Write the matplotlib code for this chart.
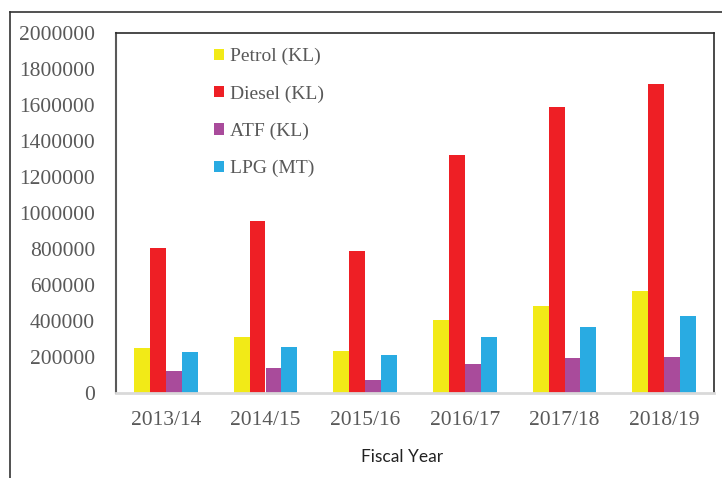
import matplotlib
matplotlib.use("Agg")
import matplotlib.pyplot as plt
from matplotlib.patches import Patch
from matplotlib.lines import Line2D
import numpy as np

years = ["2013/14", "2014/15", "2015/16", "2016/17", "2017/18", "2018/19"]
series_names = ["Petrol (KL)", "Diesel (KL)", "ATF (KL)", "LPG (MT)"]
petrol = [250000, 313000, 235000, 407000, 485000, 567000]
diesel = [807000, 957000, 790000, 1322000, 1590000, 1716000]
atf = [122000, 141000, 74000, 163000, 196000, 198000]
lpg = [229000, 256000, 213000, 311000, 368000, 429000]
yticks = [0, 200000, 400000, 600000, 800000, 1000000, 1200000,
          1400000, 1600000, 1800000, 2000000]
colors = ["#f2ea17", "#ee1f25", "#a94b9b", "#29abe2"]

W, H = 722, 478
fig = plt.figure(figsize=(W / 100, H / 100), dpi=100)
ax = fig.add_axes([116 / W, 1 - 393 / H, (714 - 116) / W, (393 - 33) / H])

x = np.arange(len(years))
bw = 0.16
for i, (vals, col, name) in enumerate(zip([petrol, diesel, atf, lpg], colors, series_names)):
    ax.bar(x + (i - 1.5) * bw, vals, bw, color=col, label=name, linewidth=0, zorder=2)

ax.set_xlim(-0.5, len(years) - 0.5)
ax.set_ylim(yticks[0], yticks[-1])
ax.set_yticks(yticks)
ax.set_yticklabels([str(v) for v in yticks])
ax.set_xticks(x)
ax.set_xticklabels(years)

for lab in ax.get_yticklabels() + ax.get_xticklabels():
    lab.set_fontfamily("Liberation Serif")
    lab.set_fontsize(15.5)
    lab.set_color("#595959")
ax.tick_params(axis="y", length=0, pad=15)
ax.tick_params(axis="x", length=0, pad=13)

ax.spines["top"].set_color("#2b2b2b")
ax.spines["top"].set_linewidth(1.2)
ax.spines["right"].set_color("#2b2b2b")
ax.spines["right"].set_linewidth(1.2)
ax.spines["left"].set_color("#595959")
ax.spines["left"].set_linewidth(1.5)
ax.spines["bottom"].set_color("#d9d9d9")
ax.spines["bottom"].set_linewidth(2)

fig.text(402 / W, 1 - 457 / H, "Fiscal Year", ha="center", va="center",
         fontsize=12.5, family="Lato", color="#222222")

handles = [Patch(facecolor=c, edgecolor="none") for c in colors]
leg = ax.legend(handles, series_names, loc="upper left",
                bbox_to_anchor=(214 / W, 1 - 48 / H), bbox_transform=fig.transFigure,
                frameon=False, handlelength=0.5, handleheight=0.5,
                handletextpad=0.3, labelspacing=1.03, borderpad=0, borderaxespad=0,
                prop=dict(family="Liberation Serif", size=14))
for t in leg.get_texts():
    t.set_color("#595959")

# outer frame lines
fig.add_artist(Line2D([9.5 / W, 9.5 / W], [0, 1 - 11.5 / H], transform=fig.transFigure,
                      color="#333333", linewidth=1.2))
fig.add_artist(Line2D([9.5 / W, 1], [1 - 11.5 / H, 1 - 11.5 / H], transform=fig.transFigure,
                      color="#333333", linewidth=1.2))

fig.savefig("out.png", dpi=100)
